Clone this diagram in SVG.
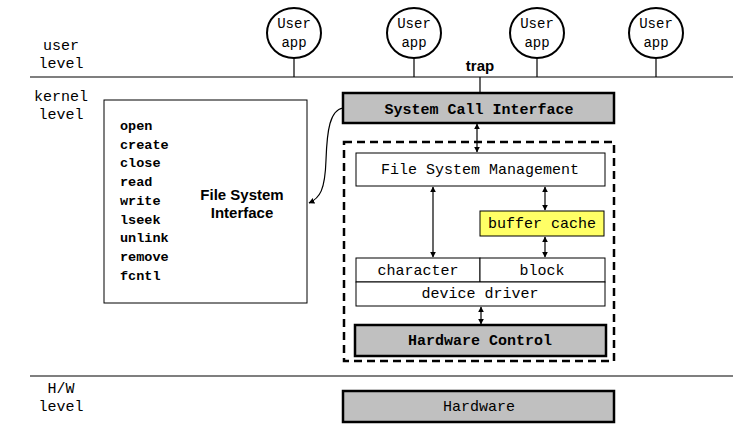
<svg xmlns="http://www.w3.org/2000/svg" width="739" height="447" viewBox="0 0 739 447">
<defs>
<marker id="ah" viewBox="0 0 10 10" refX="9" refY="5" markerWidth="6" markerHeight="6" orient="auto-start-reverse" markerUnits="userSpaceOnUse">
<path d="M0,0 L10,5 L0,10 z" fill="#000"/>
</marker>
<style>
.mono{font-family:"Liberation Mono","Courier New",monospace;font-size:15px;fill:#000}
.sm{font-size:14px}
.b{font-weight:bold}
.sans{font-family:"Liberation Sans",Arial,sans-serif;font-size:15px;font-weight:bold;fill:#000}
.box{fill:#fff;stroke:#000;stroke-width:1}
.gray{fill:#c0c0c0;stroke:#000;stroke-width:2.5}
.ln{stroke:#000;stroke-width:1.2;fill:none}
.arr{stroke:#000;stroke-width:1.2;fill:none;marker-start:url(#ah);marker-end:url(#ah)}
.app{fill:#fff;stroke:#000;stroke-width:2}
</style>
</defs>
<rect width="739" height="447" fill="#fff"/>
<g id="levels">
<line class="ln" x1="30" y1="77" x2="733" y2="77"/>
<line class="ln" x1="30" y1="376" x2="733" y2="376"/>
<text class="mono" x="61" y="50" text-anchor="middle">user</text>
<text class="mono" x="61" y="68" text-anchor="middle">level</text>
<text class="mono" x="61" y="101" text-anchor="middle">kernel</text>
<text class="mono" x="61" y="119" text-anchor="middle">level</text>
<text class="mono" x="61" y="393" text-anchor="middle">H/W</text>
<text class="mono" x="61" y="411" text-anchor="middle">level</text>
</g>
<g id="connectors">
<line class="ln" x1="294" y1="58" x2="294" y2="77"/>
<line class="ln" x1="414" y1="58" x2="414" y2="77"/>
<line class="ln" x1="537" y1="58" x2="537" y2="77"/>
<line class="ln" x1="656" y1="58" x2="656" y2="77"/>
<line class="ln" x1="480" y1="77" x2="480" y2="93"/>
<text class="sans" x="480" y="71" text-anchor="middle">trap</text>
<line class="arr" x1="477" y1="124" x2="477" y2="152"/>
<line class="arr" x1="433" y1="187" x2="433" y2="257"/>
<line class="arr" x1="545" y1="187" x2="545" y2="210"/>
<line class="arr" x1="545" y1="237" x2="545" y2="257"/>
<line class="arr" x1="481" y1="307" x2="481" y2="324"/>
<path class="ln" d="M343,108 C330,110 327,130 326,160 C325,190 320,198 309,203" marker-end="url(#ah)"/>
</g>
<g id="app1"><ellipse class="app" cx="294" cy="33" rx="27" ry="25"/><text class="mono sm" x="294" y="28" text-anchor="middle">User</text><text class="mono sm" x="294" y="47" text-anchor="middle">app</text></g>
<g id="app2"><ellipse class="app" cx="414" cy="33" rx="27" ry="25"/><text class="mono sm" x="414" y="28" text-anchor="middle">User</text><text class="mono sm" x="414" y="47" text-anchor="middle">app</text></g>
<g id="app3"><ellipse class="app" cx="537" cy="33" rx="27" ry="25"/><text class="mono sm" x="537" y="28" text-anchor="middle">User</text><text class="mono sm" x="537" y="47" text-anchor="middle">app</text></g>
<g id="app4"><ellipse class="app" cx="656" cy="33" rx="27" ry="25"/><text class="mono sm" x="656" y="28" text-anchor="middle">User</text><text class="mono sm" x="656" y="47" text-anchor="middle">app</text></g>
<g id="fsi">
<rect class="box" x="104" y="100" width="203" height="203"/>
<text class="mono b" x="120" style="font-size:13.5px">
<tspan x="120" y="130">open</tspan>
<tspan x="120" y="148.7">create</tspan>
<tspan x="120" y="167.4">close</tspan>
<tspan x="120" y="186.1">read</tspan>
<tspan x="120" y="204.8">write</tspan>
<tspan x="120" y="223.5">lseek</tspan>
<tspan x="120" y="242.2">unlink</tspan>
<tspan x="120" y="260.9">remove</tspan>
<tspan x="120" y="279.6">fcntl</tspan>
</text>
<text class="sans" x="242" y="200" text-anchor="middle">File System</text>
<text class="sans" x="242" y="218" text-anchor="middle">Interface</text>
</g>
<g id="sci">
<rect class="gray" x="343" y="93" width="271" height="30"/>
<text class="mono b" x="479" y="114" text-anchor="middle">System Call Interface</text>
</g>
<g id="kernel">
<rect x="344" y="142" width="270" height="219" fill="none" stroke="#000" stroke-width="2.5" stroke-dasharray="8,5"/>
</g>
<g id="fsm">
<rect class="box" x="356" y="153" width="249" height="33"/>
<text class="mono" x="480" y="174" text-anchor="middle">File System Management</text>
</g>
<g id="cache">
<rect x="480" y="211" width="124" height="25" fill="#ffff66" stroke="#000" stroke-width="1"/>
<text class="mono" x="542" y="228" text-anchor="middle">buffer cache</text>
</g>
<g id="character">
<rect class="box" x="356" y="258" width="124" height="24"/>
<text class="mono" x="418" y="275" text-anchor="middle">character</text>
</g>
<g id="block">
<rect class="box" x="480" y="258" width="125" height="24"/>
<text class="mono" x="542" y="275" text-anchor="middle">block</text>
</g>
<g id="driver">
<rect class="box" x="356" y="282" width="249" height="24"/>
<text class="mono" x="480" y="298" text-anchor="middle">device driver</text>
</g>
<g id="hwctl">
<rect class="gray" x="355" y="325" width="251" height="31"/>
<text class="mono b" x="480" y="345" text-anchor="middle">Hardware Control</text>
</g>
<g id="hw">
<rect class="gray" x="343" y="391" width="271" height="31"/>
<text class="mono" x="479" y="411" text-anchor="middle">Hardware</text>
</g>
</svg>
